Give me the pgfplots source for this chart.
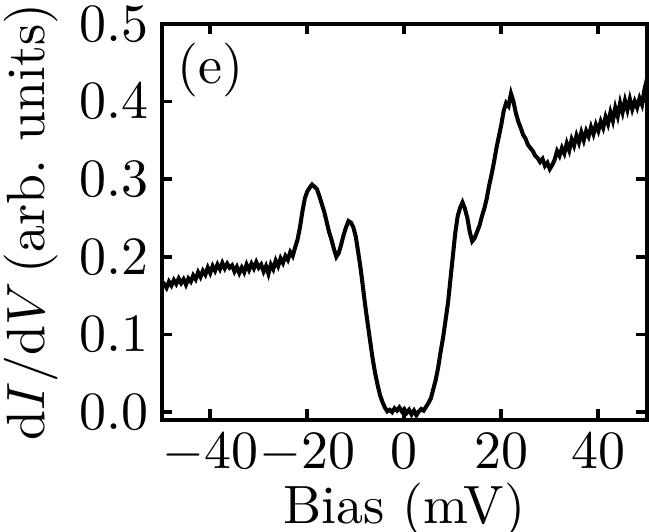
\documentclass[border=0pt]{standalone}
\usepackage{pgfplots}
\pgfplotsset{compat=1.18}

\begin{document}
\begin{tikzpicture}
\begin{axis}[
  name=ax,
  scale only axis,
  width=90pt, height=73.5pt,
  xmin=-50, xmax=50,
  ymin=-0.01, ymax=0.5,
  xtick={-40,-20,0,20,40},
  ytick={0,0.1,0.2,0.3,0.4,0.5},
  yticklabel style={xshift=1pt, /pgf/number format/fixed,
    /pgf/number format/fixed zerofill, /pgf/number format/precision=1},
  xticklabel style={yshift=1pt},
  tick align=inside,
  major tick length=2pt,
  axis line style={line width=0.7pt},
  every tick/.style={line width=0.7pt, black},
  xlabel={Bias (mV)},
  ylabel={d$I/$d$V\,$(arb.\ units)},
  xlabel style={yshift=5pt},
  ylabel style={yshift=-3pt},
]
% dI/dV spectrum, values
\addplot[black, line width=0.75pt] coordinates {
(-50,0.163) (-49.5,0.165) (-49,0.160) (-48.5,0.168) (-48,0.163) (-47.5,0.170)
(-47,0.165) (-46.5,0.172) (-46,0.166) (-45.5,0.171) (-45,0.164) (-44.5,0.172)
(-44,0.168) (-43.5,0.176) (-43,0.171) (-42.5,0.180) (-42,0.174) (-41.5,0.182)
(-41,0.177) (-40.5,0.186) (-40,0.179) (-39.5,0.188) (-39,0.182) (-38.5,0.190)
(-38,0.184) (-37.5,0.192) (-37,0.185) (-36.5,0.191) (-36,0.186) (-35.5,0.189)
(-35,0.181) (-34.5,0.187) (-34,0.179) (-33.5,0.186) (-33,0.180) (-32.5,0.190)
(-32,0.183) (-31.5,0.191) (-31,0.185) (-30.5,0.193) (-30,0.186) (-29.5,0.190)
(-29,0.181) (-28.5,0.188) (-28,0.178) (-27.5,0.190) (-27,0.184) (-26.5,0.195)
(-26,0.188) (-25.5,0.198) (-25,0.192) (-24.5,0.201) (-24,0.196) (-23.5,0.206)
(-23,0.201) (-22.5,0.212) (-22,0.222) (-21.5,0.238) (-21,0.258) (-20.5,0.275)
(-20,0.284) (-19.5,0.289) (-19,0.293) (-18.5,0.290) (-18,0.287) (-17.5,0.278)
(-17,0.268) (-16.5,0.258) (-16,0.245) (-15.5,0.232) (-15,0.222) (-14.5,0.210)
(-14,0.200) (-13.5,0.205) (-13,0.216) (-12.5,0.228) (-12,0.238) (-11.5,0.246)
(-11,0.244) (-10.5,0.238) (-10,0.226) (-9.5,0.206) (-9,0.185) (-8.5,0.160)
(-8,0.135) (-7.5,0.112) (-7,0.090) (-6.5,0.068) (-6,0.050) (-5.5,0.035)
(-5,0.022) (-4.5,0.013) (-4,0.006) (-3.5,0.001) (-3,0.003) (-2.5,0.000)
(-2,0.005) (-1.5,0.002) (-1,0.006) (-0.5,0.001) (0,0.004) (0.5,-0.001)
(1,0.003) (1.5,-0.003) (2,0.002) (2.5,-0.004) (3,0.001) (3.5,0.004)
(4,0.002) (4.5,0.007) (5,0.012) (5.5,0.018) (6,0.030) (6.5,0.042)
(7,0.058) (7.5,0.078) (8,0.096) (8.5,0.118) (9,0.140) (9.5,0.170)
(10,0.200) (10.5,0.230) (11,0.252) (11.5,0.263) (12,0.270) (12.5,0.262)
(13,0.250) (13.5,0.232) (14,0.220) (14.5,0.224) (15,0.232) (15.5,0.240)
(16,0.252) (16.5,0.262) (17,0.275) (17.5,0.292) (18,0.306) (18.5,0.322)
(19,0.340) (19.5,0.355) (20,0.370) (20.5,0.388) (21,0.398) (21.5,0.394)
(22,0.410) (22.5,0.400) (23,0.385) (23.5,0.374) (24,0.366) (24.5,0.357)
(25,0.352) (25.5,0.344) (26,0.340) (26.5,0.336) (27,0.330) (27.5,0.327)
(28,0.322) (28.5,0.326) (29,0.317) (29.5,0.321) (30,0.313) (30.5,0.318)
(31,0.325) (31.5,0.336) (32,0.330) (32.5,0.340) (33,0.333) (33.5,0.346)
(34,0.337) (34.5,0.351) (35,0.343) (35.5,0.356) (36,0.347) (36.5,0.360)
(37,0.350) (37.5,0.362) (38,0.355) (38.5,0.367) (39,0.358) (39.5,0.370)
(40,0.362) (40.5,0.374) (41,0.366) (41.5,0.380) (42,0.371) (42.5,0.386)
(43,0.375) (43.5,0.392) (44,0.381) (44.5,0.398) (45,0.386) (45.5,0.401)
(46,0.389) (46.5,0.403) (47,0.390) (47.5,0.400) (48,0.392) (48.5,0.404)
(49,0.396) (49.5,0.415) (50,0.428)
};
\node at (axis cs:-40,0.44) {(e)};
\end{axis}
% the reference is cut tight at the right and below the x label
\pgfresetboundingbox
\path[use as bounding box] ([xshift=-30pt,yshift=-20.7pt]ax.south west)
  rectangle ([xshift=0.4pt,yshift=4.4pt]ax.north east);
\end{tikzpicture}
\end{document}
